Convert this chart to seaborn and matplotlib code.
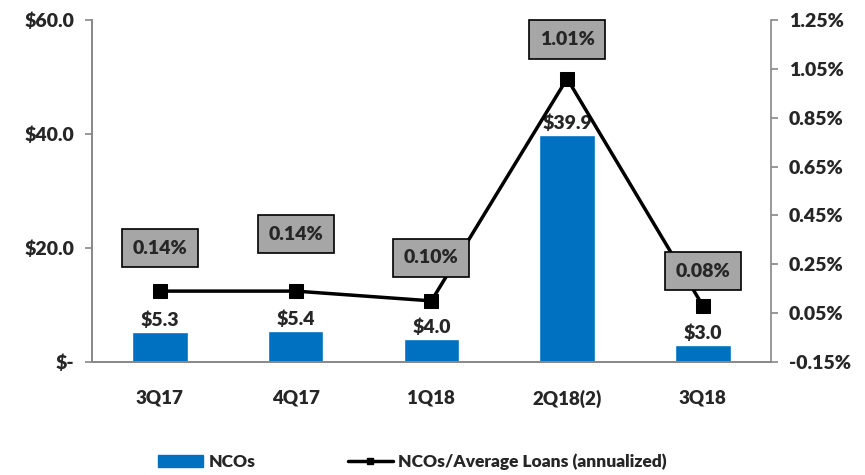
import numpy as np
import pandas as pd
import matplotlib
matplotlib.use("Agg")
import matplotlib.pyplot as plt
import seaborn as sns
from matplotlib.lines import Line2D
from matplotlib.patches import Patch

# --- adatok ---
quarters = ["3Q17", "4Q17", "1Q18", "2Q18(2)", "3Q18"]
ncos = [5.3, 5.4, 4.0, 39.9, 3.0]
nco_ratio = [0.14, 0.14, 0.10, 1.01, 0.08]
bar_labels = ["$5.3", "$5.4", "$4.0", "$39.9", "$3.0"]
ratio_labels = ["0.14%", "0.14%", "0.10%", "1.01%", "0.08%"]
left_ticks = [0, 20, 40, 60]
left_ticklabels = ["$-", "$20.0", "$40.0", "$60.0"]
right_ticks = [-0.15, 0.05, 0.25, 0.45, 0.65, 0.85, 1.05, 1.25]

# dobozok eltolása (pont)
box_offsets = [31, 41, 31, 28, 25]

sns.set_style("white")
plt.rcParams["font.family"] = ["Lato", "DejaVu Sans"]
plt.rcParams["font.weight"] = "bold"

df = pd.DataFrame({"Negyedev": quarters, "NCO": ncos, "Arany": nco_ratio})

blue = "#0070C0"
grey = "#878787"

fig = plt.figure(figsize=(8.65, 4.75), dpi=100)
ax = fig.add_axes([0.1064, 0.238, 0.7846, 0.72])

sns.barplot(data=df, x="Negyedev", y="NCO", color=blue, width=0.41,
            saturation=1, ax=ax)
ax.set_ylim(0, 60)
ax.set_xlim(-0.5, 4.5)
ax.set_yticks(left_ticks)
ax.set_yticklabels(left_ticklabels, fontsize=14, fontweight="heavy")
ax.set_xlabel("")
ax.set_ylabel("")
ax.set_xticks(range(len(quarters)))
ax.set_xticklabels(quarters, fontsize=13.5, fontweight="heavy")
ax.set_xticks(np.arange(0.5, 4.5, 1), minor=True)
ax.tick_params(axis="x", which="major", length=0, pad=20)
ax.tick_params(axis="x", which="minor", length=6, color=grey, width=1.2)
ax.tick_params(axis="y", length=5, color=grey, width=1.2, pad=8)

for i, v in enumerate(ncos):
    ax.text(i, v + 0.5, bar_labels[i], ha="center", va="bottom",
            fontsize=14, fontweight="heavy")

ax2 = ax.twinx()
sns.lineplot(x=np.arange(len(quarters)), y=nco_ratio, ax=ax2, color="black",
             linewidth=2.5, marker="s", markersize=10, markeredgecolor="black")
ax2.set_ylim(-0.15, 1.25)
ax2.set_yticks(right_ticks)
ax2.set_yticklabels([f"{t:.2f}%" for t in right_ticks], fontsize=14,
                    fontweight="heavy")
ax2.tick_params(axis="y", length=5, color=grey, width=1.2, pad=8)

for i, v in enumerate(nco_ratio):
    ax2.annotate(ratio_labels[i], xy=(i, v), xytext=(0, box_offsets[i]),
                 textcoords="offset points", ha="center", va="center",
                 fontsize=14, fontweight="heavy",
                 bbox=dict(boxstyle="square,pad=0.55", fc="#A6A6A6",
                           ec="black", lw=1.2))

for a in (ax, ax2):
    a.spines["top"].set_visible(False)
    for s in ("left", "right", "bottom"):
        a.spines[s].set_color(grey)
        a.spines[s].set_linewidth(1.2)
ax.spines["right"].set_visible(False)

handles = [Patch(color=blue),
           Line2D([0], [0], color="black", lw=2.5, marker="s", markersize=5)]
fig.legend(handles, ["NCOs", "NCOs/Average Loans (annualized)"],
           loc="center left", bbox_to_anchor=(0.183, 0.027), ncol=2,
           frameon=False, handlelength=2.6, handletextpad=0.3,
           columnspacing=5.3, borderaxespad=0, borderpad=0,
           prop={"weight": "heavy", "size": 12.5})

fig.savefig("out.png", dpi=100)
